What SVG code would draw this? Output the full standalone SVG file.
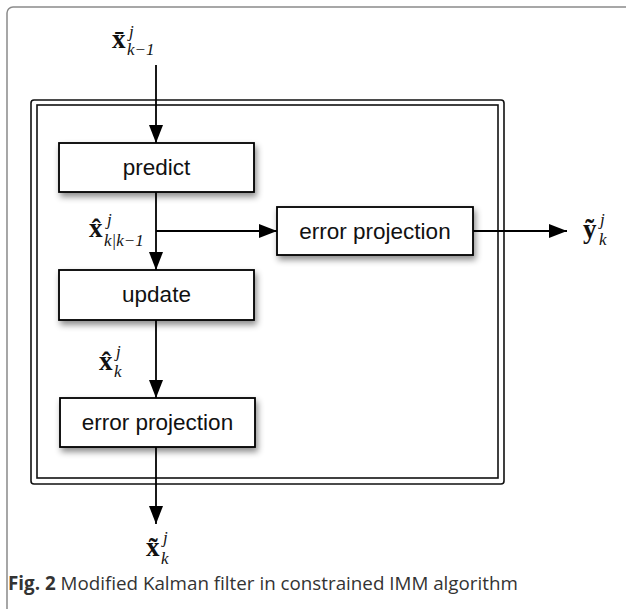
<svg xmlns="http://www.w3.org/2000/svg" width="626" height="609" viewBox="0 0 626 609">
<style>
.box{fill:#fff;stroke:#000;stroke-width:1.8;filter:url(#sh)}
.lbl{font-family:"Liberation Sans",Arial,sans-serif;font-size:22.5px;fill:#111;text-anchor:middle}
.m{font-family:"Liberation Serif","DejaVu Serif",serif;fill:#111}
.mx{font-size:27px;font-weight:bold}
.ms{font-size:17px;font-style:italic}
.con{stroke:#000;stroke-width:1.8;fill:none}
.frame{fill:none;stroke:#111;stroke-width:1.6}
</style>
<defs>
<filter id="sh" x="-20%" y="-30%" width="150%" height="180%">
<feDropShadow dx="2" dy="4" stdDeviation="3" flood-color="#000" flood-opacity="0.45"/>
</filter>
<marker id="ahl" viewBox="0 0 18 14" refX="18" refY="7" markerWidth="18" markerHeight="14" markerUnits="userSpaceOnUse" orient="auto">
<path d="M0,0 L18,7 L0,14 Z" fill="#000"/>
</marker>
</defs>
<rect x="7" y="7" width="700" height="700" rx="6" fill="none" stroke="#8a8a8a" stroke-width="1.5"/>
<g id="container">
<rect class="frame" x="31" y="100" width="473" height="384" rx="3"/>
<rect class="frame" x="37" y="105" width="461" height="373"/>
</g>
<g id="connectors">
<line class="con" x1="156" y1="65" x2="156" y2="143" marker-end="url(#ahl)"/>
<line class="con" x1="156" y1="192" x2="156" y2="270" marker-end="url(#ahl)"/>
<line class="con" x1="156" y1="231" x2="277" y2="231" marker-end="url(#ahl)"/>
<line class="con" x1="156" y1="320" x2="156" y2="398" marker-end="url(#ahl)"/>
<line class="con" x1="156" y1="447" x2="156" y2="524" marker-end="url(#ahl)"/>
<line class="con" x1="473" y1="231" x2="567" y2="231" marker-end="url(#ahl)"/>
</g>
<g id="predict">
<rect class="box" x="59" y="143" width="195" height="49"/>
<text class="lbl" x="156.5" y="175">predict</text>
</g>
<g id="update">
<rect class="box" x="59" y="270" width="195" height="50"/>
<text class="lbl" x="156.5" y="302">update</text>
</g>
<g id="error-projection-right">
<rect class="box" x="277" y="207" width="196" height="48"/>
<text class="lbl" x="375" y="239">error projection</text>
</g>
<g id="error-projection-bottom">
<rect class="box" x="60" y="398" width="195" height="49"/>
<text class="lbl" x="157.5" y="430">error projection</text>
</g>
<g id="labels">
<text class="m mx" x="112" y="48">x̄</text>
<text class="m ms" x="129" y="37">j</text>
<text class="m ms" x="127" y="55">k−1</text>

<text class="m mx" x="89" y="237">x̂</text>
<text class="m ms" x="107" y="225">j</text>
<text class="m ms" x="104" y="246">k|k−1</text>

<text class="m mx" x="99" y="370">x̂</text>
<text class="m ms" x="116" y="357">j</text>
<text class="m ms" x="114" y="377">k</text>

<text class="m mx" x="146" y="556">x̃</text>
<text class="m ms" x="163" y="543">j</text>
<text class="m ms" x="161" y="564">k</text>

<text class="m mx" x="583" y="238">ỹ</text>
<text class="m ms" x="600" y="225">j</text>
<text class="m ms" x="599" y="245">k</text>
</g>
<text x="8" y="590" font-family="'Open Sans','Noto Sans',sans-serif" font-size="18.8" fill="#333"><tspan font-weight="bold">Fig. 2</tspan> Modified Kalman filter in constrained IMM algorithm</text>
</svg>
